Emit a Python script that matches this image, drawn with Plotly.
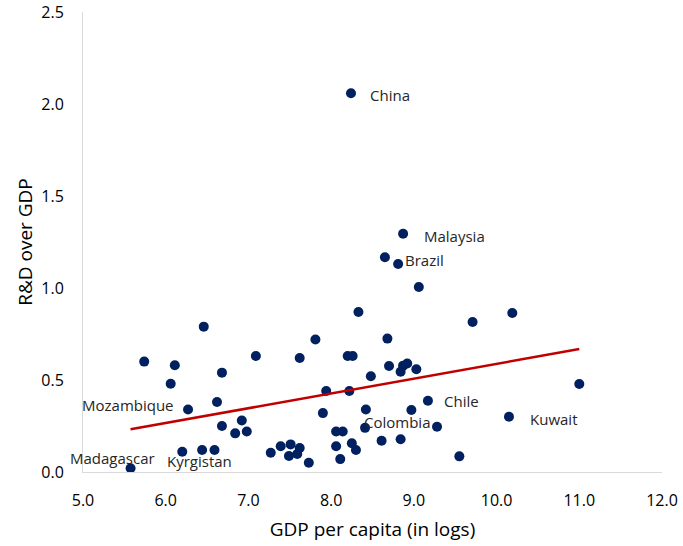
import plotly.graph_objects as go

# GDP per capita (in logs) and R&D over GDP
gdp_log = [5.575, 5.74, 6.11, 6.06, 6.46, 6.27, 6.20, 6.44, 6.59, 6.68,
           6.62, 6.68, 6.92, 6.84, 6.98, 7.09, 7.27, 7.39, 7.51, 7.62,
           7.49, 7.59, 7.73, 7.62, 7.81, 7.94, 7.90, 8.06, 8.14, 8.06,
           8.11, 8.25, 8.30, 8.20, 8.26, 8.22, 8.33, 8.48, 8.42, 8.41,
           8.87, 8.65, 8.81, 9.06, 9.71, 10.19, 8.68, 8.70, 8.87, 8.92,
           8.84, 9.03, 11.0, 9.17, 10.15, 8.97, 9.28, 8.61, 8.84, 9.55,
           8.24]
rd_gdp = [0.02, 0.60, 0.58, 0.48, 0.79, 0.34, 0.11, 0.12, 0.12, 0.54,
          0.38, 0.25, 0.28, 0.21, 0.22, 0.63, 0.105, 0.14, 0.15, 0.13,
          0.087, 0.098, 0.05, 0.62, 0.72, 0.44, 0.32, 0.22, 0.22, 0.14,
          0.07, 0.156, 0.12, 0.63, 0.63, 0.44, 0.87, 0.52, 0.34, 0.24,
          1.295, 1.167, 1.13, 1.005, 0.815, 0.864, 0.725, 0.576, 0.578, 0.59,
          0.545, 0.558, 0.478, 0.387, 0.30, 0.337, 0.246, 0.17, 0.178, 0.085,
          2.058]

# Linear trend line endpoints
trend_x = [5.575, 11.0]
trend_y = [0.232, 0.668]

# Labelled countries: (name, index of point)
label_names = ["China", "Malaysia", "Brazil", "Chile", "Kuwait", "Colombia",
               "Mozambique", "Madagascar", "Kyrgistan"]
label_index = [60, 40, 42, 53, 54, 56, 5, 0, 6]

x_ticks = [5.0, 6.0, 7.0, 8.0, 9.0, 10.0, 11.0, 12.0]
y_ticks = [0.0, 0.5, 1.0, 1.5, 2.0, 2.5]

# label placement styles (anchor, xshift, yshift)
label_style = {
    "China": ("left", 17, -2),
    "Malaysia": ("left", 19, -2),
    "Brazil": ("left", 5, 4),
    "Chile": ("left", 14, 0),
    "Kuwait": ("left", 19, -2),
    "Colombia": ("right", -5, 5),
    "Mozambique": ("right", -12, 4),
    "Madagascar": ("center", -18, 10),
    "Kyrgistan": ("center", 17, -9),
}

FONT = "'Open Sans', sans-serif"

fig = go.Figure()
fig.add_trace(go.Scatter(
    x=gdp_log, y=rd_gdp, mode="markers",
    marker=dict(size=10, color="#002060"),
    hoverinfo="x+y", showlegend=False))
fig.add_trace(go.Scatter(
    x=trend_x, y=trend_y, mode="lines",
    line=dict(color="#C00000", width=2.5),
    showlegend=False, hoverinfo="skip"))

for name, idx in zip(label_names, label_index):
    anchor, xs, ys = label_style[name]
    fig.add_annotation(
        x=gdp_log[idx], y=rd_gdp[idx], text=name, showarrow=False,
        xanchor=anchor, yanchor="middle", xshift=xs, yshift=ys,
        font=dict(family=FONT, size=15, color="#262626"))

fig.update_layout(
    width=683, height=546,
    margin=dict(l=83, r=21, t=12, b=74),
    paper_bgcolor="white", plot_bgcolor="white",
    font=dict(family=FONT, color="#000000"),
)
fig.update_xaxes(
    range=[5.0, 12.0], tickvals=x_ticks,
    ticktext=[f"{v:.1f}" for v in x_ticks],
    showgrid=False, zeroline=False, showline=True,
    linecolor="#d9d9d9", linewidth=1, ticks="",
    ticklabelstandoff=14, automargin=False,
    tickfont=dict(family=FONT, size=16, color="#000000"),
    title=dict(text="GDP per capita (in logs)", standoff=12,
               font=dict(family=FONT, size=19, color="#000000")),
)
fig.update_yaxes(
    range=[0.0, 2.5], tickvals=y_ticks,
    ticktext=[f"{v:.1f}" for v in y_ticks],
    showgrid=False, zeroline=False, showline=True,
    linecolor="#d9d9d9", linewidth=1, ticks="",
    ticklabelstandoff=15, automargin=False,
    tickfont=dict(family=FONT, size=16, color="#000000"),
    title=dict(text="R&amp;D over GDP", standoff=3,
               font=dict(family=FONT, size=19, color="#000000")),
)

fig.write_html("out.html", config={"displayModeBar": False},
               post_script="document.body.style.margin='0';")
